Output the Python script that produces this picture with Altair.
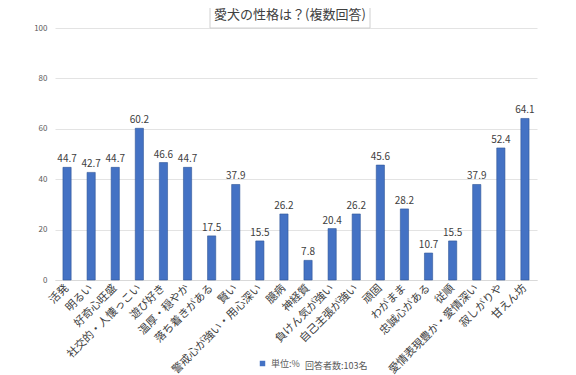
import altair as alt
import pandas as pd

categories = ["活発", "明るい", "好奇心旺盛", "社交的・人懐っこい", "遊び好き", "温厚・穏やか",
              "落ち着きがある", "賢い", "警戒心が強い・用心深い", "臆病", "神経質", "負けん気が強い",
              "自己主張が強い", "頑固", "わがまま", "忠誠心がある", "従順", "愛情表現豊か・愛情深い",
              "寂しがりや", "甘えん坊"]
values = [44.7, 42.7, 44.7, 60.2, 46.6, 44.7, 17.5, 37.9, 15.5, 26.2, 7.8, 20.4, 26.2,
          45.6, 28.2, 10.7, 15.5, 37.9, 52.4, 64.1]
series_name = "単位:%"
note = "回答者数:103名"
title_text = "愛犬の性格は？(複数回答)"
y_ticks = [0, 20, 40, 60, 80, 100]

df = pd.DataFrame({"cat": categories, "val": values, "series": series_name})
df["lbl"] = df["val"].map(lambda v: f"{v:.1f}")

FONT = "Noto Sans CJK JP"
W, H = 482, 252

x = alt.X("cat:N", sort=categories, title=None,
          scale=alt.Scale(paddingInner=0.66, paddingOuter=0.33),
          axis=alt.Axis(labelAngle=-45, labelAlign="right", labelBaseline="middle",
                        labelFontSize=11, labelColor="#404040", labelFont=FONT,
                        ticks=False, domain=True, domainColor="#d9d9d9",
                        labelPadding=6, labelOverlap=False, labelLimit=200))
y = alt.Y("val:Q", title=None,
          scale=alt.Scale(domain=[0, 100], nice=False),
          axis=alt.Axis(values=y_ticks, grid=True, gridColor="#e3e3e3", domain=False,
                        ticks=False, labelFontSize=8, labelColor="#595959",
                        labelPadding=8, labelFont=FONT))

base = alt.Chart(df)

bars = base.mark_bar(stroke="#2f5597", strokeWidth=0.6).encode(
    x=x, y=y,
    color=alt.Color("series:N", scale=alt.Scale(range=["#4472c4"]),
                    legend=alt.Legend(title=None, orient="none", legendX=203, legendY=331,
                                      symbolType="square", symbolSize=30,
                                      labelFontSize=9, labelColor="#595959", labelFont=FONT,
                                      symbolStrokeWidth=0)))

labels = base.mark_text(dy=-8, fontSize=10, color="#404040", font=FONT).encode(
    x=alt.X("cat:N", sort=categories), y="val:Q", text="lbl:N")

note_df = pd.DataFrame({"t": [note]})
note_mark = alt.Chart(note_df).mark_text(align="left", baseline="middle", fontSize=9,
                                         color="#595959", font=FONT).encode(
    x=alt.value(250), y=alt.value(338), text="t:N")

title_df = pd.DataFrame({"t": [title_text]})
title_box = alt.Chart(title_df).mark_rect(fill="white", stroke="#d0d0d0", strokeWidth=1).encode(
    x=alt.value(155), x2=alt.value(315), y=alt.value(-26), y2=alt.value(0))
title_mark = alt.Chart(title_df).mark_text(align="center", baseline="middle", fontSize=13,
                                           color="#404040", font=FONT).encode(
    x=alt.value(235), y=alt.value(-13), text="t:N")

chart = alt.layer(bars, labels, note_mark, title_box, title_mark).properties(
    width=W, height=H,
    autosize=alt.AutoSizeParams(type="none"),
    padding={"left": 47, "top": 20, "right": 31, "bottom": 95},
    background="white",
).configure_view(stroke=None)

chart.save("out.html", embed_options={"renderer": "svg", "actions": False})
